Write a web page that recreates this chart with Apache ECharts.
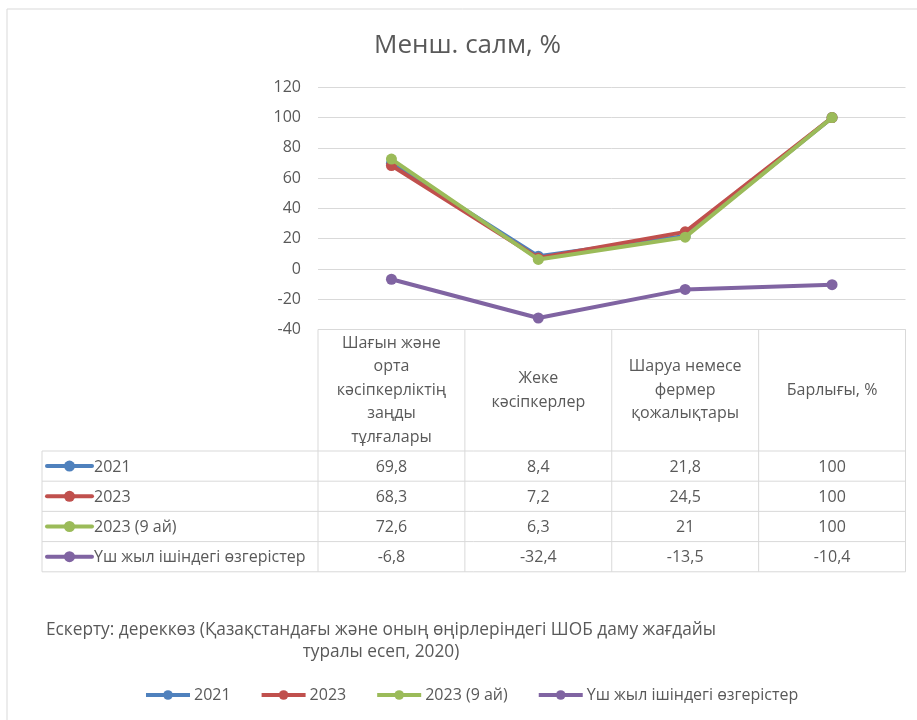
<!DOCTYPE html>
<html>
<head>
<meta charset="utf-8">
<script src="https://cdn.jsdelivr.net/npm/echarts@6/dist/echarts.min.js"></script>
<style>
  html, body { margin: 0; padding: 0; background: #ffffff; }
  #chart { width: 917px; height: 720px; }
</style>
</head>
<body>
<div id="chart"></div>
<script>
// ---- data ----
const categories = [
  'Шағын және\nорта\nкәсіпкерліктің\nзаңды\nтұлғалары',
  'Жеке\nкәсіпкерлер',
  'Шаруа немесе\nфермер\nқожалықтары',
  'Барлығы, %'
];
const seriesNames = ['2021', '2023', '2023 (9 ай)', 'Үш жыл ішіндегі өзгерістер'];
const values2021 = [69.8, 8.4, 21.8, 100];
const values2023 = [68.3, 7.2, 24.5, 100];
const values2023m9 = [72.6, 6.3, 21, 100];
const valuesChange = [-6.8, -32.4, -13.5, -10.4];
const seriesColors = ['#4F81BD', '#C0504D', '#9BBB59', '#8064A2'];
const yMin = -40, yMax = 120, yInterval = 20;
const titleText = 'Менш. салм, %';
const noteText = 'Ескерту: дереккөз (Қазақстандағы және оның өңірлеріндегі ШОБ даму жағдайы\nтуралы есеп, 2020)';

const allValues = [values2021, values2023, values2023m9, valuesChange];

const FONT = '"Open Sans", "Noto Sans", sans-serif';
const TXT = '#595959';
const BORDER = '#d9d9d9';

const chart = echarts.init(document.getElementById('chart'), null, { renderer: 'canvas' });

const series = seriesNames.map((name, i) => ({
  name: name,
  type: 'line',
  data: allValues[i],
  symbol: 'circle',
  symbolSize: 11,
  itemStyle: { color: seriesColors[i] },
  lineStyle: { color: seriesColors[i], width: 4 },
  emphasis: { disabled: true },
  z: 2 + i
}));

const option = {
  backgroundColor: '#ffffff',
  animation: false,
  textStyle: { fontFamily: FONT },
  title: {
    text: titleText,
    left: 369,
    top: 28,
    textStyle: { fontFamily: FONT, fontSize: 26, fontWeight: 'normal', color: TXT }
  },
  grid: { left: 318, right: 11.5, top: 87.3, bottom: 390.5, containLabel: false },
  xAxis: {
    type: 'category',
    data: categories,
    boundaryGap: true,
    axisLine: { show: false },
    axisTick: { show: false },
    axisLabel: { show: false },
    splitLine: { show: false }
  },
  yAxis: {
    type: 'value',
    min: yMin,
    max: yMax,
    interval: yInterval,
    axisLine: { show: false },
    axisTick: { show: false },
    axisLabel: { color: TXT, fontSize: 16, fontFamily: FONT, margin: 17 },
    splitLine: { lineStyle: { color: BORDER, width: 1 } }
  },
  legend: {
    bottom: 12,
    left: 139,
    itemWidth: 44,
    itemHeight: 12,
    itemGap: 29,
    lineStyle: { width: 4 },
    textStyle: { color: TXT, fontSize: 16, fontFamily: FONT, padding: [0, 0, 0, -1] },
    data: seriesNames
  },
  series: series
};

chart.setOption(option);

// ---- data table built from the axis scale ----
function buildTable() {
  const centers = categories.map((c, i) => chart.convertToPixel({ xAxisIndex: 0 }, i));
  const bw = centers.length > 1 ? centers[1] - centers[0] : 147;
  const yTop = chart.convertToPixel({ yAxisIndex: 0 }, yMin);
  const headerH = 121.5;
  const rowH = 30.2;
  const tableLeft = 42;
  const colLeft = centers[0] - bw / 2;
  const tableRight = centers[centers.length - 1] + bw / 2;
  const headerBottom = yTop + headerH;
  const tableBottom = headerBottom + rowH * seriesNames.length;

  const els = [];
  const line = (x1, y1, x2, y2) => els.push({
    type: 'line', silent: true,
    shape: { x1: x1, y1: y1, x2: x2, y2: y2 },
    style: { stroke: BORDER, lineWidth: 1 }
  });

  // chart area border
  els.push({
    type: 'rect', silent: true, z: -10,
    shape: { x: 7, y: 9, width: 940, height: 740 },
    style: { fill: null, stroke: BORDER, lineWidth: 1 }
  });

  // vertical lines of category columns
  for (let i = 0; i <= categories.length; i++) {
    const x = colLeft + bw * i;
    line(x, yTop, x, tableBottom);
  }
  // left border of legend column
  line(tableLeft, headerBottom, tableLeft, tableBottom);
  // top line of header
  line(colLeft, yTop, tableRight, yTop);
  // horizontal row lines
  for (let r = 0; r <= seriesNames.length; r++) {
    const y = headerBottom + rowH * r;
    line(tableLeft, y, tableRight, y);
  }

  // header labels
  categories.forEach((c, i) => {
    els.push({
      type: 'text', silent: true,
      x: centers[i], y: yTop + headerH / 2,
      style: {
        text: c, fill: TXT, font: '16px ' + FONT,
        align: 'center', verticalAlign: 'middle', lineHeight: 23.4
      }
    });
  });

  // rows
  seriesNames.forEach((name, r) => {
    const yc = headerBottom + rowH * r + rowH / 2;
    // legend key
    els.push({
      type: 'line', silent: true,
      shape: { x1: 47, y1: yc, x2: 92, y2: yc },
      style: { stroke: seriesColors[r], lineWidth: 4, lineCap: 'round' }
    });
    els.push({
      type: 'circle', silent: true,
      shape: { cx: 69.5, cy: yc, r: 5.5 },
      style: { fill: seriesColors[r] }
    });
    els.push({
      type: 'text', silent: true,
      x: 94, y: yc + 1,
      style: { text: name, fill: TXT, font: '16px ' + FONT, align: 'left', verticalAlign: 'middle' }
    });
    allValues[r].forEach((v, i) => {
      els.push({
        type: 'text', silent: true,
        x: centers[i], y: yc + 1,
        style: {
          text: String(v).replace('.', ','), fill: TXT, font: '16px ' + FONT,
          align: 'center', verticalAlign: 'middle'
        }
      });
    });
  });

  // footnote
  els.push({
    type: 'text', silent: true,
    x: 381, y: 641,
    style: {
      text: noteText, fill: TXT, font: '17.3px ' + FONT,
      align: 'center', verticalAlign: 'middle', lineHeight: 21.5
    }
  });

  chart.setOption({ graphic: { elements: els } });
}
buildTable();
</script>
</body>
</html>
